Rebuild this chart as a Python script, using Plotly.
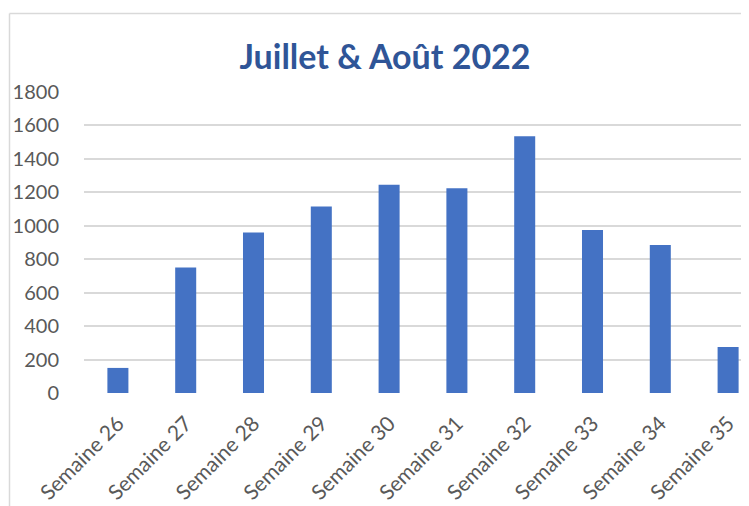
import plotly.graph_objects as go

categories = ["Semaine 26", "Semaine 27", "Semaine 28", "Semaine 29", "Semaine 30",
              "Semaine 31", "Semaine 32", "Semaine 33", "Semaine 34", "Semaine 35"]
values = [150, 750, 960, 1115, 1245, 1225, 1535, 975, 885, 275]
y_ticks = [0, 200, 400, 600, 800, 1000, 1200, 1400, 1600, 1800]
title_text = "Juillet & Août 2022"

OFF = 8  # page body margin
W, H = 749 - OFF, 506 - OFF
L, T = 84 - OFF, 92 - OFF
B = H - (393 - OFF)
plot_w = W - L
plot_h = H - T - B

fig = go.Figure(go.Bar(
    x=list(range(len(categories))), y=values,
    marker=dict(color="#4472C4", line=dict(width=0)),
    width=0.31,
))

def px_to_paper_x(px):
    return (px - OFF - L) / plot_w

def px_to_paper_y(py):
    return (H - B - (py - OFF)) / plot_h

border = "#d9d9d9"
fig.add_shape(type="line", xref="paper", yref="paper",
              x0=px_to_paper_x(9.5), x1=px_to_paper_x(9.5),
              y0=px_to_paper_y(13.5), y1=px_to_paper_y(520),
              line=dict(color=border, width=1.5))
fig.add_shape(type="line", xref="paper", yref="paper",
              x0=px_to_paper_x(9.5), x1=px_to_paper_x(770),
              y0=px_to_paper_y(13.5), y1=px_to_paper_y(13.5),
              line=dict(color=border, width=1.5))

fig.update_layout(
    width=W, height=H,
    margin=dict(l=L, r=0, t=T, b=B, pad=0, autoexpand=False),
    paper_bgcolor="white", plot_bgcolor="white",
    showlegend=False,
    title=dict(text="<b>" + title_text + "</b>", x=(385 - OFF) / W, xanchor="center",
               y=1 - (57 - OFF) / H, yanchor="middle",
               font=dict(family="Lato", size=34, color="#2F5597")),
    xaxis=dict(
        range=[-0.5, plot_w / 67.8 - 0.5],
        tickmode="array", tickvals=list(range(len(categories))), ticktext=categories,
        tickangle=-45, showgrid=False, zeroline=False, showline=False,
        ticks="outside", ticklen=9, tickcolor="rgba(0,0,0,0)",
        tickfont=dict(family="Lato", size=21, color="#595959"),
        automargin=False,
    ),
    yaxis=dict(
        range=[0, 1800], tickmode="array", tickvals=y_ticks,
        showgrid=True, gridcolor="#d9d9d9", gridwidth=1.5,
        zeroline=False, showline=False,
        ticks="outside", ticklen=20, tickcolor="rgba(0,0,0,0)",
        tickfont=dict(family="Lato", size=20, color="#595959"),
        automargin=False,
    ),
)

fig.write_html("out.html")
